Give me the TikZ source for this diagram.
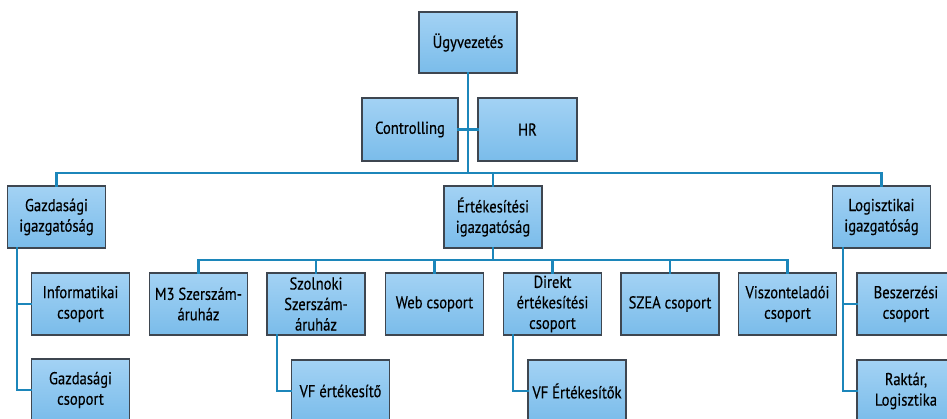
\documentclass[tikz,border=0pt]{standalone}
\usepackage{fontspec}
\setmainfont{PT Sans}[FakeStretch=0.85,FakeBold=0.4]
\definecolor{conncol}{RGB}{28,134,186}
\definecolor{boxtop}{RGB}{163,210,244}
\definecolor{boxbot}{RGB}{122,188,234}
\definecolor{boxedge}{RGB}{62,70,80}
\tikzset{
  orgbox/.style={draw=boxedge, line width=1.1pt, top color=boxtop, bottom color=boxbot,
    rectangle, minimum width=98pt, minimum height=62pt, inner sep=1pt, align=center,
    text=black, font=\fontsize{17.2pt}{20.5pt}\selectfont},
  conn/.style={draw=conncol, line width=2.2pt, line cap=rect},
  mainconn/.style={draw=conncol, line width=2.8pt, line cap=rect}
}
\begin{document}
\begin{tikzpicture}[x=1pt,y=-1pt]
\useasboundingbox (0,0) rectangle (947,419);
\clip (0,0) rectangle (947,419);
\coordinate (bus) at (0,173);
\coordinate (sb) at (0,260);
\coordinate (gv) at (17,0);
\coordinate (sv) at (277,0);
\coordinate (dv) at (513,0);
\coordinate (lv) at (843,0);

\node[orgbox, minimum height=61pt] (ugy) at (468,42.5) {Ügyvezetés};
\node[orgbox, minimum width=96pt, minimum height=63pt] (ctrl) at (410,129.5) {Controlling};
\node[orgbox, minimum width=99pt, minimum height=63pt] (hr) at (527.5,129.5) {HR};

\node[orgbox] (gazd) at (56.5,217) {Gazdasági\\igazgatóság};
\node[orgbox] (ert) at (493,217) {Értékesítési\\igazgatóság};
\node[orgbox] (log) at (881.5,217) {Logisztikai\\igazgatóság};

\node[orgbox] (info) at (80.5,304) {Informatikai\\csoport};
\node[orgbox] (gcs) at (80.5,390) {Gazdasági\\csoport};

\node[orgbox] (m3) at (198.5,304) {M3 Szerszám-\\áruház};
\node[orgbox] (szol) at (316,304) {Szolnoki\\Szerszám-\\áruház};
\node[orgbox] (web) at (434.5,304) {Web csoport};
\node[orgbox] (dir) at (552.5,304) {Direkt\\értékesítési\\csoport};
\node[orgbox] (szea) at (670,304) {SZEA csoport};
\node[orgbox] (visz) at (787.5,304) {Viszonteladói\\csoport};

\node[orgbox] (vf1) at (340.5,391) {VF értékesítő};
\node[orgbox] (vf2) at (577,391) {VF Értékesítők};

\node[orgbox] (besz) at (906,304) {Beszerzési\\csoport};
\node[orgbox] (rak) at (906,391) {Raktár,\\Logisztika};

% top level
\draw[mainconn] (ugy.south) -- (ugy.south |- bus);
\draw[conn] (ctrl.east) -- (hr.west);
\draw[mainconn] (gazd.north) -- (gazd.north |- bus) -- (log.north |- bus) -- (log.north);
\draw[mainconn] (ert.north) -- (ert.north |- bus);

% Gazdasági branch
\draw[conn] (gazd.south -| gv) |- (info.west);
\draw[conn] (gazd.south -| gv) |- (gcs.west);

% Értékesítési branch
\draw[conn] (ert.south) -- (ert.south |- sb);
\draw[conn] (m3.north) -- (m3.north |- sb) -- (visz.north |- sb) -- (visz.north);
\draw[conn] (szol.north) -- (szol.north |- sb);
\draw[conn] (web.north) -- (web.north |- sb);
\draw[conn] (dir.north) -- (dir.north |- sb);
\draw[conn] (szea.north) -- (szea.north |- sb);
\draw[conn] (szol.south -| sv) |- (vf1.west);
\draw[conn] (dir.south -| dv) |- (vf2.west);

% Logisztikai branch
\draw[conn] (log.south -| lv) |- (besz.west);
\draw[conn] (log.south -| lv) |- (rak.west);
\end{tikzpicture}
\end{document}
